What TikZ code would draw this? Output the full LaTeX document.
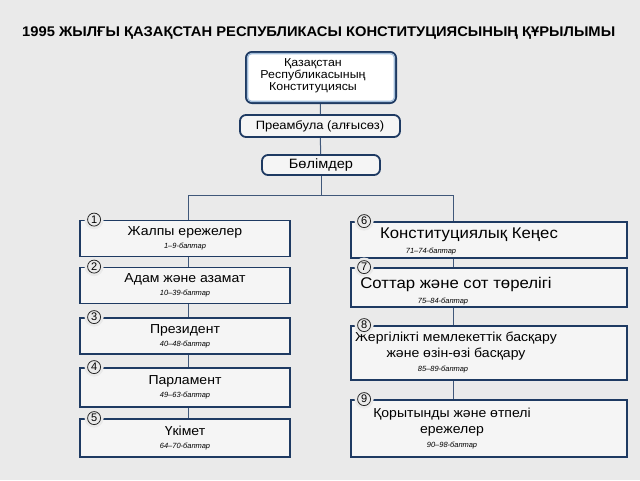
\documentclass[tikz,border=0pt]{standalone}
\usepackage{fontspec}
\setmainfont{Liberation Sans}
\newfontfamily\boxfont[FakeStretch=1.08]{Liberation Sans}
\usepackage{graphicx}
\usetikzlibrary{positioning}

\definecolor{navy}{HTML}{1E3A62}
\definecolor{paper}{HTML}{EAEAEA}
\definecolor{boxfill}{HTML}{F5F5F5}
\definecolor{rimblue}{HTML}{A3BEDB}

\newcommand{\arts}[2][0pt]{\\[-2pt]\hspace*{#1}{\normalfont\fontsize{7.5}{9}\selectfont\itshape #2-баптар}}

\tikzset{
  part/.style={draw=navy, line width=1.8pt, fill=boxfill, align=center, inner sep=2pt,
    font=\boxfont\fontsize{13}{15}\selectfont},
  leftpart/.style={part, minimum width=210pt, minimum height=36pt},
  rightpart/.style={part, minimum width=276pt, minimum height=37pt},
  roundpart/.style={part, rounded corners=6pt, text height=9pt, text depth=2.5pt},
  words/.style={align=center, inner sep=0pt, font=\boxfont\fontsize{13}{16}\selectfont},
  num/.style={circle, draw=black!85, line width=0.8pt, inner sep=0pt, minimum size=13pt,
    fill=paper, font=\fontsize{11}{11}\selectfont, preaction={draw=paper, line width=6pt}},
  link/.style={draw=navy!85, line width=1pt},
}

\begin{document}
\begin{tikzpicture}[x=1pt, y=-1pt]
\fill[paper] (0,0) rectangle (640,480);
\useasboundingbox (0,0) rectangle (640,480);

\node (title) [anchor=base west, inner sep=0pt, font=\fontsize{14}{16}\selectfont\bfseries]
  at (22,36) {\resizebox{593pt}{\height}{1995 ЖЫЛҒЫ ҚАЗАҚСТАН РЕСПУБЛИКАСЫ КОНСТИТУЦИЯСЫНЫҢ ҚҰРЫЛЫМЫ}};

\node (top) [part, rounded corners=6pt, line width=2pt, minimum width=150pt, minimum height=51pt,
  fill=white] at (321,77.5) {};
\draw[rimblue, line width=1.4pt, rounded corners=4pt]
  ([shift={(2.6,2.6)}]top.north west) rectangle ([shift={(-2.6,-2.6)}]top.south east);
\node (toptext) [words, font=\boxfont\fontsize{11.5}{12}\selectfont] at (313,76)
  {Қазақстан\\Республикасының\\Конституциясы};
\node (pre) [roundpart, font=\boxfont\fontsize{12}{14}\selectfont, minimum width=160pt,
  minimum height=22pt] at (320,126) {Преамбула (алғысөз)};
\node (sec) [roundpart, font=\boxfont\fontsize{13.5}{15}\selectfont, minimum width=118pt,
  minimum height=20pt] at (321,165) {Бөлімдер};

\node (b1) [leftpart] at (185,238.5) {Жалпы ережелер\arts{1–9}};
\node (b2) [leftpart] at (185,285.5) {Адам және азамат\arts{10–39}};
\node (b3) [leftpart] at (185,336) {Президент\arts{40–48}};
\node (b4) [leftpart, minimum height=39pt] at (185,387.5) {Парламент\arts{49–63}};
\node (b5) [leftpart, minimum height=38pt] at (185,438) {Үкімет\arts{64–70}};

\node (b6) [rightpart, minimum height=36pt] at (489,240) {};
\node (b7) [rightpart, minimum height=39pt] at (489,287.5) {};
\node (b8) [rightpart, minimum height=54pt] at (489,353) {};
\node (b9) [rightpart, minimum height=57pt] at (489,428.5) {};
\node (t6) [words, font=\boxfont\fontsize{15.5}{17}\selectfont] at (469,241)
  {Конституциялық Кеңес\arts[-76pt]{71–74}};
\node (t7) [words, font=\boxfont\fontsize{15.5}{17}\selectfont] at (456,291)
  {Соттар және сот төрелігі\arts[-26pt]{75–84}};
\node (t8) [words] at (456,353)
  {Жергілікті мемлекеттік басқару\\және өзін-өзі басқару\arts[-26pt]{85–89}};
\node (t9) [words] at (452,429)
  {Қорытынды және өтпелі\\ережелер\arts{90–98}};

\coordinate (lj) at (188,195);
\coordinate (rj) at (453,195);

\draw[link] (top) -- (pre);
\draw[link] (pre) -- (sec);
\draw[link] (sec) -- (sec |- lj);
\draw[link] (b1.north -| lj) -- (lj) -- (rj) -- (b6.north -| rj);
\foreach \a/\b in {b1/b2, b2/b3, b3/b4, b4/b5}
  \draw[link] (\a.south -| lj) -- (\b.north -| lj);
\foreach \a/\b in {b6/b7, b7/b8, b8/b9}
  \draw[link] (\a.south -| rj) -- (\b.north -| rj);

\foreach \b/\n in {b1/1, b2/2, b3/3, b4/4, b5/5}
  \node (n\n) [num] at ([xshift=15pt]\b.north west) {\n};
\foreach \b/\n in {b6/6, b7/7, b8/8, b9/9}
  \node (n\n) [num] at ([xshift=14pt]\b.north west) {\n};
\end{tikzpicture}
\end{document}
